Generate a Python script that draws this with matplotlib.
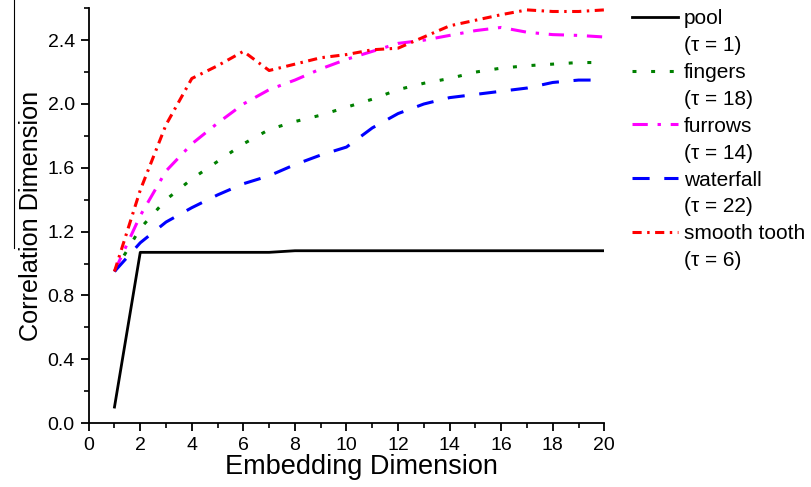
import matplotlib
matplotlib.use("Agg")
import matplotlib.pyplot as plt
from matplotlib.lines import Line2D
from matplotlib.ticker import MultipleLocator, FormatStrFormatter

plt.rcParams['font.family'] = ['Liberation Sans', 'DejaVu Sans']

embedding = list(range(1, 21))
pool = [0.10, 1.07, 1.07, 1.07, 1.07, 1.07, 1.07, 1.08, 1.08, 1.08,
        1.08, 1.08, 1.08, 1.08, 1.08, 1.08, 1.08, 1.08, 1.08, 1.08]
fingers = [0.95, 1.22, 1.40, 1.53, 1.64, 1.75, 1.84, 1.89, 1.93, 1.98,
           2.03, 2.09, 2.13, 2.16, 2.20, 2.225, 2.24, 2.25, 2.26, 2.26]
furrows = [0.95, 1.30, 1.58, 1.75, 1.88, 2.00, 2.09, 2.15, 2.22, 2.28,
           2.33, 2.38, 2.40, 2.43, 2.46, 2.48, 2.45, 2.435, 2.43, 2.42]
waterfall = [0.95, 1.13, 1.26, 1.35, 1.43, 1.50, 1.55, 1.62, 1.68, 1.73,
             1.85, 1.94, 2.00, 2.04, 2.06, 2.08, 2.10, 2.135, 2.15, 2.15]
smooth_tooth = [0.95, 1.46, 1.87, 2.16, 2.24, 2.33, 2.21, 2.25, 2.29, 2.31,
                2.34, 2.35, 2.42, 2.49, 2.525, 2.56, 2.59, 2.58, 2.58, 2.59]

names = ["pool", "fingers", "furrows", "waterfall", "smooth tooth"]
taus = ["(\u03c4 = 1)", "(\u03c4 = 18)", "(\u03c4 = 14)", "(\u03c4 = 22)", "(\u03c4 = 6)"]
series = [pool, fingers, furrows, waterfall, smooth_tooth]
colors = ["black", "#008000", "#ff00ff", "#0000ff", "#ff0000"]
styles = ["-", (0, (1.3, 4.8)), (0, (5, 3.2, 1.1, 3.2)), (0, (5.6, 4.8)), (0, (3, 1.8, 0.8, 1.8))]
widths = [2.0, 2.2, 2.2, 2.2, 2.2]

fig = plt.figure(figsize=(8.11, 4.87), dpi=100)
ax = fig.add_axes([88.7/811, 1-423/487, (604.3-88.7)/811, (423-8.3)/487])

handles = []
for y, c, ls, lw in zip(series, colors, styles, widths):
    ln, = ax.plot(embedding, y, color=c, linestyle=ls, linewidth=lw)
    handles.append(ln)

ax.set_xlim(0, 20)
ax.set_ylim(0, 2.6)
ax.xaxis.set_major_locator(MultipleLocator(2))
ax.xaxis.set_minor_locator(MultipleLocator(1))
ax.yaxis.set_major_locator(MultipleLocator(0.4))
ax.yaxis.set_minor_locator(MultipleLocator(0.2))
ax.yaxis.set_major_formatter(FormatStrFormatter('%.1f'))
for s in ['top', 'right']:
    ax.spines[s].set_visible(False)
for s in ['left', 'bottom']:
    ax.spines[s].set_linewidth(1.3)
ax.tick_params(which='major', direction='out', length=6, width=1.3, labelsize=14, pad=4)
ax.tick_params(which='minor', direction='out', length=3.5, width=1.2)
ax.set_xlabel("Embedding Dimension", fontsize=19.5, labelpad=0)
ax.xaxis.label.set_x(0.529)
ax.set_ylabel("Correlation Dimension", fontsize=18.2, labelpad=3)

leg_handles = []
leg_labels = []
blank = Line2D([], [], linestyle='none')
for h, n, t in zip(handles, names, taus):
    leg_handles += [h, blank]
    leg_labels += [n, t]
fig.legend(leg_handles, leg_labels, loc='upper left',
           bbox_to_anchor=(632/811, 1-9/487), frameon=False, fontsize=15,
           borderpad=0, borderaxespad=0, handlelength=2.2, handletextpad=0.28,
           labelspacing=0.38)

fig.add_artist(Line2D([13.5/811, 13.5/811], [1.0, 1-248/487], color='black', linewidth=0.8))

fig.savefig("out.png", dpi=100)
